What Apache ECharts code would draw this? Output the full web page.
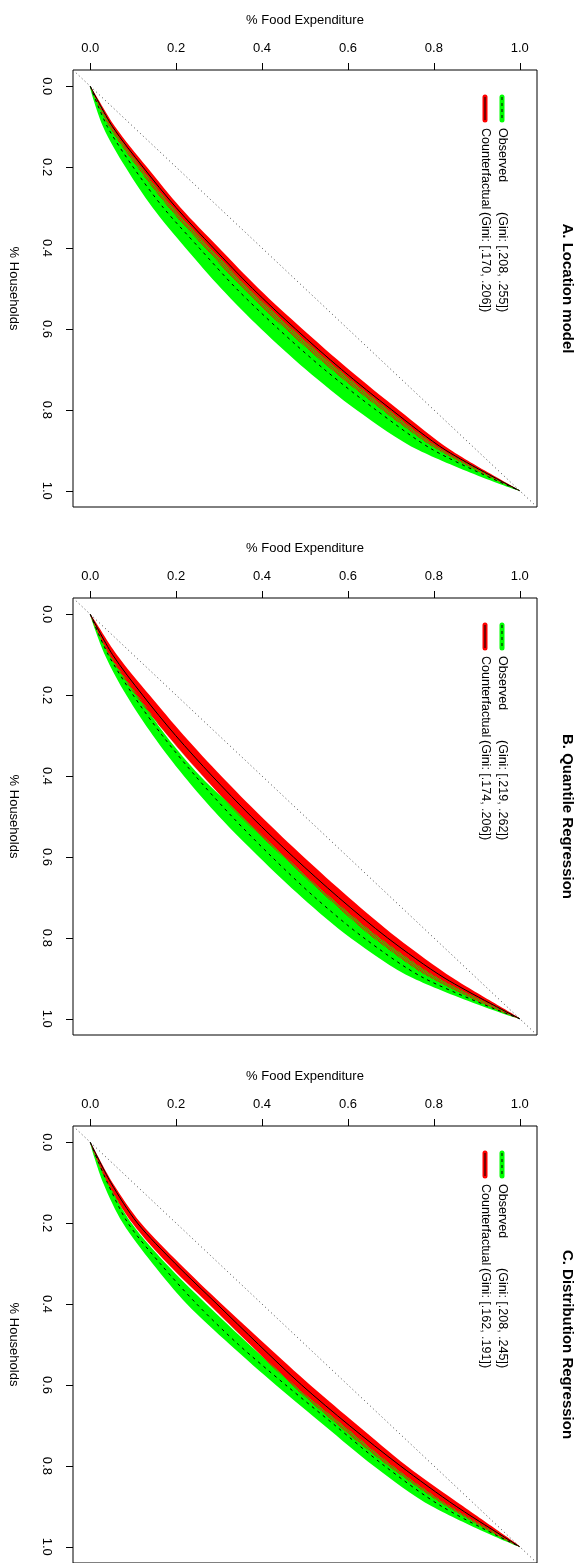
<!DOCTYPE html>
<html>
<head>
<meta charset="utf-8">
<script src="https://cdn.jsdelivr.net/npm/echarts@6/dist/echarts.min.js"></script>
<style>
html, body { margin: 0; padding: 0; background: #fff; }
#chart { width: 588px; height: 1563px; }
</style>
</head>
<body>
<div id="chart"></div>
<script>
// share of households (drawn top -> bottom, the picture is turned a quarter turn)
const P     = [0, 0.1, 0.2, 0.3, 0.4, 0.5, 0.6, 0.7, 0.8, 0.9, 1];
const TICKS = [0, 0.2, 0.4, 0.6, 0.8, 1];
const DIAG  = [-0.04, 1.04];   // equality line, corner to corner

const TITLES   = ['A. Location model', 'B. Quantile Regression', 'C. Distribution Regression'];
const GINI_OBS = ['(Gini: [.208, .255])', '(Gini: [.219, .262])', '(Gini: [.208, .245])'];
const GINI_CF  = ['(Gini: [.170, .206])', '(Gini: [.174, .206])', '(Gini: [.162, .191])'];

// share of food expenditure at P -- A. Location model
const obsLowA  = [0, 0.030, 0.082, 0.145, 0.222, 0.305, 0.398, 0.502, 0.620, 0.765, 1];
const obsA     = [0, 0.040, 0.100, 0.170, 0.254, 0.340, 0.438, 0.545, 0.665, 0.800, 1];
const obsHighA = [0, 0.050, 0.118, 0.193, 0.280, 0.370, 0.470, 0.578, 0.695, 0.822, 1];
const cfLowA   = [0, 0.045, 0.110, 0.183, 0.268, 0.356, 0.455, 0.562, 0.680, 0.812, 1];
const cfA      = [0, 0.052, 0.123, 0.200, 0.287, 0.378, 0.478, 0.585, 0.702, 0.828, 1];
const cfHighA  = [0, 0.058, 0.132, 0.210, 0.300, 0.392, 0.494, 0.602, 0.718, 0.840, 1];

// B. Quantile Regression
const obsLowB  = [0, 0.034, 0.084, 0.146, 0.218, 0.300, 0.393, 0.493, 0.606, 0.752, 1];
const obsB     = [0, 0.042, 0.100, 0.168, 0.245, 0.330, 0.423, 0.523, 0.637, 0.778, 1];
const obsHighB = [0, 0.046, 0.110, 0.176, 0.256, 0.355, 0.455, 0.560, 0.675, 0.812, 1];
const cfLowB   = [0, 0.044, 0.106, 0.180, 0.262, 0.350, 0.450, 0.552, 0.660, 0.795, 1];
const cfB      = [0, 0.052, 0.122, 0.199, 0.284, 0.375, 0.473, 0.578, 0.692, 0.826, 1];
const cfHighB  = [0, 0.062, 0.138, 0.218, 0.305, 0.398, 0.497, 0.602, 0.715, 0.845, 1];

// C. Distribution Regression
const obsLowC  = [0, 0.030, 0.076, 0.145, 0.225, 0.325, 0.432, 0.545, 0.660, 0.795, 1];
const obsC     = [0, 0.040, 0.088, 0.163, 0.248, 0.345, 0.455, 0.570, 0.685, 0.818, 1];
const obsHighC = [0, 0.042, 0.096, 0.176, 0.270, 0.370, 0.475, 0.590, 0.705, 0.838, 1];
const cfLowC   = [0, 0.040, 0.098, 0.180, 0.276, 0.372, 0.470, 0.578, 0.695, 0.830, 1];
const cfC      = [0, 0.048, 0.110, 0.198, 0.295, 0.392, 0.492, 0.603, 0.722, 0.852, 1];
const cfHighC  = [0, 0.052, 0.118, 0.208, 0.306, 0.408, 0.512, 0.623, 0.737, 0.868, 1];

const panels = [
  { obsLow: obsLowA, obs: obsA, obsHigh: obsHighA, cfLow: cfLowA, cf: cfA, cfHigh: cfHighA },
  { obsLow: obsLowB, obs: obsB, obsHigh: obsHighB, cfLow: cfLowB, cf: cfB, cfHigh: cfHighB },
  { obsLow: obsLowC, obs: obsC, obsHigh: obsHighC, cfLow: cfLowC, cf: cfC, cfHigh: cfHighC },
];

const FONT     = '"Liberation Sans", Arial, sans-serif';
const GREEN    = '#00ff00';
const RED      = '#ff0000';
const GRID_TOP = [70, 598, 1126];
const GRID_H   = 437;

// red / green hatch where the two bands overlap
function hatch() {
  const c = document.createElement('canvas');
  c.width = 4; c.height = 4;
  const g = c.getContext('2d');
  g.fillStyle = GREEN; g.fillRect(0, 0, 4, 4);
  g.fillStyle = RED;
  for (let i = 0; i < 4; i++) { g.fillRect(i, i, 1, 1); g.fillRect((i + 2) % 4, i, 1, 1); }
  return { image: c, repeat: 'repeat' };
}
const HATCH = hatch();

function band(idx, lo, hi, fill) {
  const pts = P.map((p, i) => [lo[i], p])
    .concat(P.map((p, i) => [hi[i], p]).reverse().slice(1, -1));
  return {
    type: 'custom', xAxisIndex: idx, yAxisIndex: idx, silent: true, z: 2,
    data: pts,
    renderItem(params, api) {
      if (params.dataIndex !== 0) return null;
      return {
        type: 'polygon',
        shape: { points: pts.map(d => api.coord(d)), smooth: 0.3 },
        style: { fill: fill, stroke: null },
      };
    },
  };
}

function curve(idx, vals, dashed) {
  return {
    type: 'line', xAxisIndex: idx, yAxisIndex: idx, silent: true, z: 5,
    data: P.map((p, i) => [vals[i], p]),
    smooth: 0.3, symbol: 'none',
    lineStyle: { color: '#000', width: 1, type: dashed ? [3, 4] : 'solid' },
  };
}

const series = [];
panels.forEach((d, i) => {
  series.push({
    type: 'line', xAxisIndex: i, yAxisIndex: i, silent: true, clip: false, z: 1,
    data: DIAG.map(v => [v, v]), symbol: 'none',
    lineStyle: { color: '#444', width: 1, type: [1, 3] },
  });
  series.push(band(i, d.obsLow, d.obsHigh, GREEN));
  series.push(band(i, d.cfLow, d.cfHigh, RED));
  series.push(band(i, d.cfLow, d.cfLow.map((v, k) => Math.max(v, d.obsHigh[k])), HATCH));
  series.push(curve(i, d.obs, true));
  series.push(curve(i, d.cf, false));
});

const labelStyle = { fontFamily: FONT, fontSize: 13, color: '#000' };

const graphic = [];
GRID_TOP.forEach((top, i) => {
  graphic.push({
    type: 'text', x: 567, y: top + GRID_H / 2, rotation: -Math.PI / 2,
    style: { text: TITLES[i], font: 'bold 15px ' + FONT, fill: '#000',
             textAlign: 'center', textVerticalAlign: 'middle' },
  });
  // legend keys
  [[502, GREEN, [3, 3]], [485, RED, null]].forEach(([x, col, dash]) => {
    graphic.push({ type: 'line', shape: { x1: x, y1: top + 27, x2: x, y2: top + 50 },
                   style: { stroke: col, lineWidth: 5, lineCap: 'round' } });
    graphic.push({ type: 'line', shape: { x1: x, y1: top + 27, x2: x, y2: top + 50 },
                   style: { stroke: '#000', lineWidth: 1, lineDash: dash } });
  });
  [[502, 'Observed', GINI_OBS[i]], [485, 'Counterfactual', GINI_CF[i]]].forEach(([x, name, gini]) => {
    graphic.push({
      type: 'text', x: x, y: top + 58, rotation: -Math.PI / 2,
      style: {
        text: '{n|' + name + '}{g|' + gini + '}',
        textAlign: 'left', textVerticalAlign: 'middle',
        rich: {
          n: { width: 84, fontFamily: FONT, fontSize: 12.5, fill: '#000' },
          g: { fontFamily: FONT, fontSize: 12.5, fill: '#000' },
        },
      },
    });
  });
});

const option = {
  backgroundColor: '#fff',
  animation: false,
  grid: GRID_TOP.map(t => ({
    left: 73, width: 464, top: t, height: GRID_H,
    show: true, borderColor: '#000', borderWidth: 1, backgroundColor: 'transparent',
    outerBoundsMode: 'none',
  })),
  xAxis: GRID_TOP.map((t, i) => ({
    gridIndex: i, type: 'value', position: 'top', min: -0.04, max: 1.04,
    name: '% Food Expenditure', nameLocation: 'middle', nameGap: 43,
    nameTextStyle: labelStyle,
    axisLine: { show: false, onZero: false }, splitLine: { show: false },
    axisTick: { show: true, length: 7, customValues: TICKS, lineStyle: { color: '#000' } },
    axisLabel: { customValues: TICKS, formatter: v => v.toFixed(1), margin: 15, ...labelStyle },
  })),
  yAxis: GRID_TOP.map((t, i) => ({
    gridIndex: i, type: 'value', inverse: true, min: -0.04, max: 1.04,
    name: '% Households', nameLocation: 'middle', nameGap: 53, nameRotate: -90,
    nameTextStyle: labelStyle,
    axisLine: { show: false, onZero: false }, splitLine: { show: false },
    axisTick: { show: true, length: 7, customValues: TICKS, lineStyle: { color: '#000' } },
    axisLabel: { customValues: TICKS, formatter: v => v.toFixed(1), rotate: -90, margin: 20, ...labelStyle },
  })),
  graphic: graphic,
  series: series,
};

const chart = echarts.init(document.getElementById('chart'));
chart.setOption(option);
</script>
</body>
</html>
